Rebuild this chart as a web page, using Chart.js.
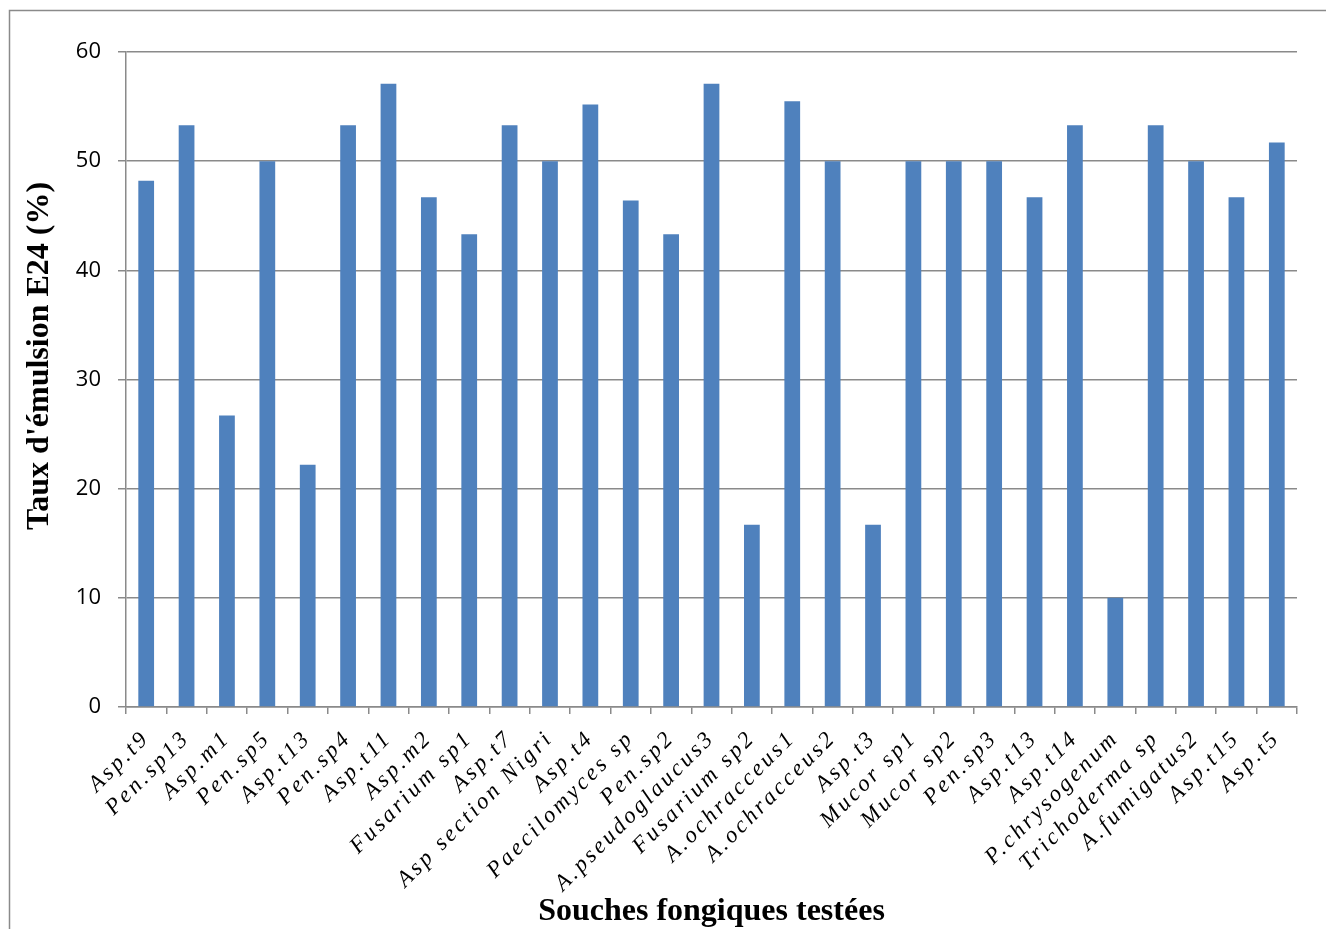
<!DOCTYPE html>
<html>
<head>
<meta charset="utf-8">
<script src="https://cdn.jsdelivr.net/npm/chart.js@4/dist/chart.umd.min.js"></script>
<style>
  html, body { margin: 0; padding: 0; background: #fff; }
  #wrap { position: relative; width: 1326px; height: 929px; }
  canvas { display: block; }
</style>
</head>
<body>
<div id="wrap"><canvas id="c" width="1326" height="929"></canvas></div>
<script>
// Fungal strains tested and their emulsification index E24 (%)
const strains = [
  'Asp.t9', 'Pen.sp13', 'Asp.m1', 'Pen.sp5', 'Asp.t13', 'Pen.sp4', 'Asp.t11',
  'Asp.m2', 'Fusarium sp1', 'Asp.t7', 'Asp section Nigri', 'Asp.t4',
  'Paecilomyces sp', 'Pen.sp2', 'A.pseudoglaucus3', 'Fusarium sp2',
  'A.ochracceus1', 'A.ochracceus2', 'Asp.t3', 'Mucor sp1', 'Mucor sp2',
  'Pen.sp3', 'Asp.t13', 'Asp.t14', 'P.chrysogenum', 'Trichoderma sp',
  'A.fumigatus2', 'Asp.t15', 'Asp.t5'
];
const e24Values = [
  48.2, 53.3, 26.7, 50, 22.2, 53.3, 57.1,
  46.7, 43.3, 53.3, 50, 55.2,
  46.4, 43.3, 57.1, 16.7,
  55.5, 50, 16.7, 50, 50,
  50, 46.7, 53.3, 10, 53.3,
  50, 46.7, 51.7
];
const yTicks = [0, 10, 20, 30, 40, 50, 60];
const yAxisTitle = "Taux d'émulsion E24 (%)";
const xAxisTitle = 'Souches fongiques testées';

// Category axis whose tick labels are drawn with extra letter spacing
class SpacedCategoryScale extends Chart.CategoryScale {
  drawLabels(chartArea) {
    const ctx = this.ctx;
    ctx.save();
    ctx.letterSpacing = '3px';
    super.drawLabels(chartArea);
    ctx.restore();
  }
}
SpacedCategoryScale.id = 'spacedCategory';
SpacedCategoryScale.defaults = Chart.CategoryScale.defaults;
Chart.register(SpacedCategoryScale);

const GRID = '#8a8a8a';

// Outer frame and the vertical value-axis title
const framePlugin = {
  id: 'frame',
  beforeDraw(chart) {
    const ctx = chart.ctx;
    ctx.save();
    ctx.strokeStyle = GRID;
    ctx.lineWidth = 1.5;
    ctx.beginPath();
    ctx.moveTo(9.5, chart.height);
    ctx.lineTo(9.5, 10.5);
    ctx.lineTo(chart.width, 10.5);
    ctx.stroke();
    ctx.restore();
  },
  afterDraw(chart) {
    const ctx = chart.ctx;
    ctx.save();
    ctx.translate(40, 356);
    ctx.rotate(-Math.PI / 2);
    ctx.font = 'bold 32px "Liberation Serif"';
    ctx.textAlign = 'center';
    ctx.textBaseline = 'middle';
    ctx.fillStyle = '#000';
    ctx.fillText(yAxisTitle, 0, 0);
    ctx.restore();
  }
};

new Chart(document.getElementById('c'), {
  type: 'bar',
  data: {
    labels: strains,
    datasets: [{
      data: e24Values,
      backgroundColor: '#4F81BD',
      borderWidth: 0,
      barPercentage: 0.39,
      categoryPercentage: 1
    }]
  },
  options: {
    responsive: false,
    animation: false,
    devicePixelRatio: 1,
    layout: { padding: { top: 52, right: 29, left: 0, bottom: 0 } },
    plugins: {
      legend: { display: false },
      tooltip: { enabled: false }
    },
    scales: {
      x: {
        type: 'spacedCategory',
        offset: true,
        grid: {
          offset: true,
          drawOnChartArea: false,
          drawTicks: true,
          tickLength: 7,
          color: GRID,
          lineWidth: 1.5
        },
        border: { color: GRID, width: 1.5 },
        ticks: {
          autoSkip: false,
          minRotation: 45,
          maxRotation: 45,
          padding: 11,
          color: '#000',
          font: { family: '"Liberation Serif"', style: 'italic', size: 23 }
        },
        title: {
          display: true,
          text: xAxisTitle,
          color: '#000',
          font: { family: '"Liberation Serif"', weight: 'bold', size: 32, lineHeight: 1 },
          padding: { top: 0, bottom: 1 }
        },
        afterFit(scale) { scale.height = 222; }
      },
      y: {
        min: 0,
        max: 60,
        afterBuildTicks(scale) { scale.ticks = yTicks.map(v => ({ value: v })); },
        grid: {
          color: GRID,
          lineWidth: 1.5,
          drawTicks: true,
          tickLength: 8
        },
        border: { color: GRID, width: 1.5 },
        ticks: {
          padding: 17,
          color: '#000',
          font: { family: '"Open Sans"', size: 22 }
        },
        afterFit(scale) { scale.width = 126; }
      }
    }
  },
  plugins: [framePlugin]
});
</script>
</body>
</html>
